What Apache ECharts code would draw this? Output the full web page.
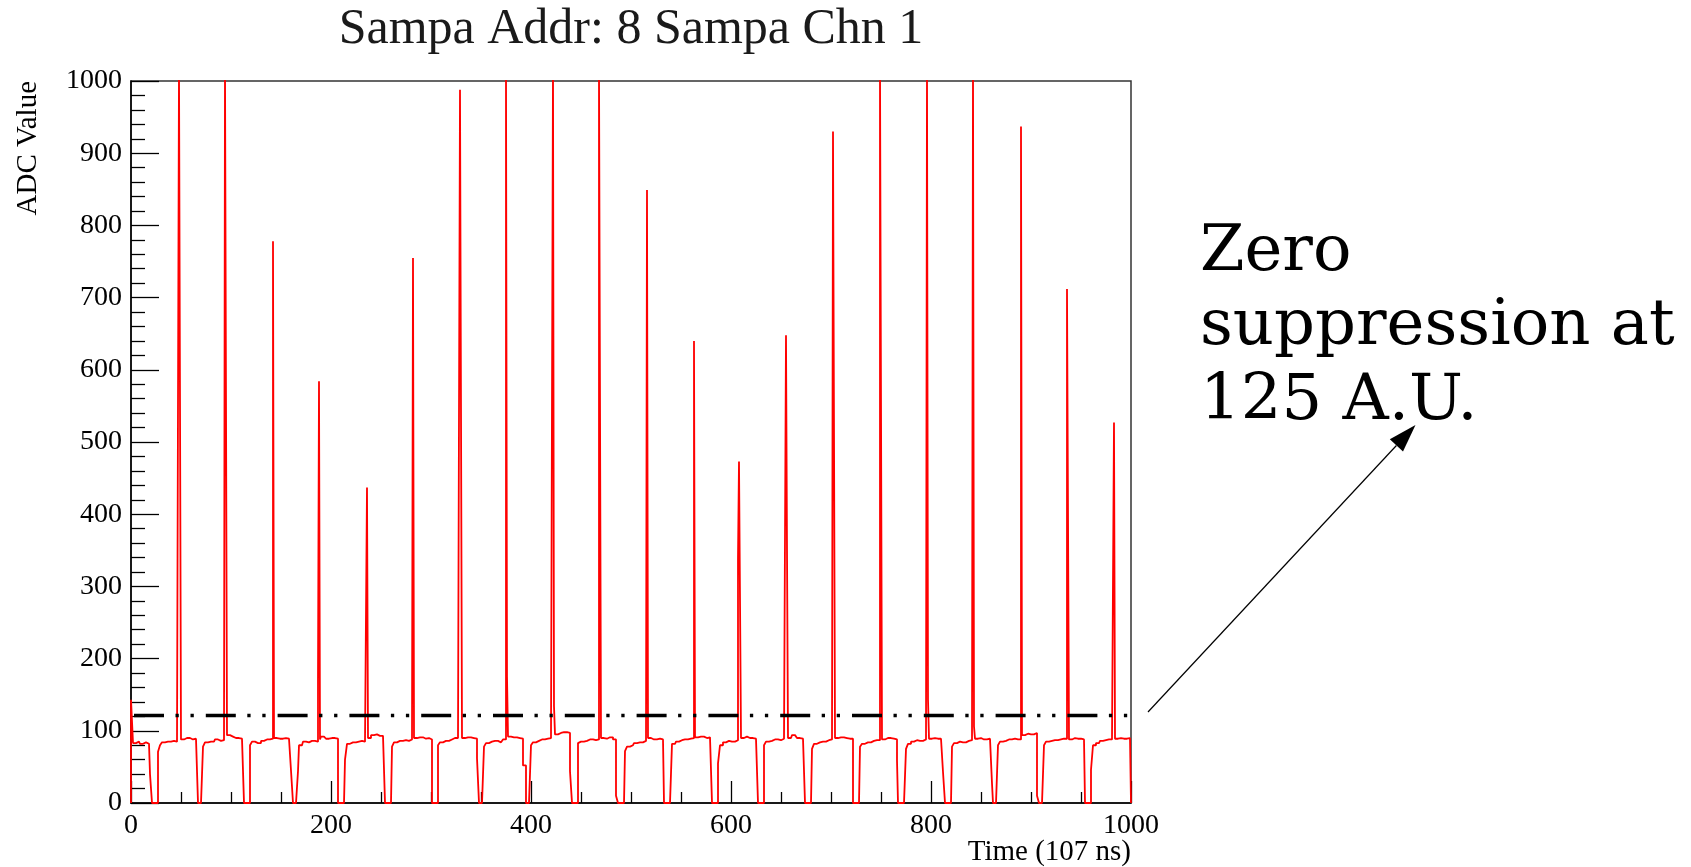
<!DOCTYPE html>
<html><head><meta charset="utf-8">
<script src="https://cdn.jsdelivr.net/npm/echarts@6/dist/echarts.min.js"></script>
<style>html,body{margin:0;padding:0;background:#fff}#c{width:1691px;height:867px}</style>
</head><body><div id="c"></div>
<script>
// ---- values ----
const titleText = 'Sampa Addr: 8 Sampa Chn 1';
const xName = 'Time (107 ns)';
const yName = 'ADC Value';
const noteText = 'Zero\nsuppression at\n125 A.U.';
const threshold = 122;

// start / end (drop to 0) of each "on" stretch of the pedestal
const segStart = [0, 27, 72, 119, 167, 214, 261, 307, 353, 400, 447, 494, 540, 587, 633, 681, 729, 775, 821, 867, 913, 960];
const segEnd   = [21, 67, 113, 162, 207, 254, 301, 348, 395, 441, 487, 533, 581, 627, 674, 722, 767, 814, 862, 908, 954, 1000];

// pedestal levels inside each stretch: [time, ADC]
const baseline = [
  [[0,143],[2,83],[5,85],[9,82],[13,84],[16,82],[19,40]],
  [[27,71],[29,80],[31,84],[35,85],[40,86],[44,85],[50,88],[55,90],[60,88],[64,89]],
  [[72,78],[74,84],[78,85],[84,88],[88,86],[92,87],[96,94],[100,92],[104,90],[110,89]],
  [[119,80],[121,85],[125,83],[130,86],[135,88],[139,89],[143,90],[148,89],[152,90],[157,89],[160,45]],
  [[167,44],[168,80],[172,85],[176,84],[180,86],[184,85],[189,88],[190,92],[195,89],[200,90],[204,89]],
  [[214,60],[216,82],[220,84],[225,85],[230,86],[233,85],[237,90],[240,94],[244,95],[248,93],[252,92]],
  [[261,78],[263,84],[267,86],[272,87],[276,86],[280,88],[283,90],[287,91],[292,89],[296,90],[300,88]],
  [[307,80],[309,84],[313,86],[318,88],[323,90],[327,89],[331,90],[335,91],[340,90],[344,89],[346,62]],
  [[353,78],[355,83],[358,85],[363,86],[368,84],[372,88],[377,92],[381,91],[386,90],[390,89],[392,52]],
  [[400,80],[402,84],[406,86],[410,88],[415,89],[419,90],[424,95],[428,97],[432,98],[436,97],[439,44]],
  [[447,83],[449,85],[453,86],[458,88],[462,87],[466,88],[470,90],[474,89],[478,91],[482,88],[485,10]],
  [[494,72],[496,78],[499,80],[503,83],[508,84],[512,86],[515,85],[517,90],[521,88],[526,89],[531,88]],
  [[540,41],[541,82],[545,85],[549,87],[553,88],[558,89],[561,90],[564,91],[568,92],[573,90],[578,91]],
  [[587,55],[589,80],[592,84],[596,86],[600,85],[604,87],[610,90],[614,92],[618,90],[623,89]],
  [[633,80],[635,85],[639,86],[643,88],[648,87],[652,89],[657,90],[661,94],[666,90],[670,89]],
  [[681,75],[683,82],[687,84],[691,85],[695,87],[699,88],[704,90],[709,91],[714,90],[718,89]],
  [[729,78],[731,82],[735,84],[740,86],[744,87],[751,88],[755,90],[760,89],[764,88],[766,59]],
  [[775,75],[777,82],[780,85],[784,87],[788,86],[792,88],[798,89],[802,90],[806,89],[810,88],[812,43]],
  [[821,78],[823,83],[827,85],[831,84],[835,86],[839,87],[844,89],[848,90],[852,88],[857,89],[861,27]],
  [[867,80],[869,85],[873,86],[877,88],[881,89],[885,88],[891,94],[895,96],[899,95],[903,97],[906,10]],
  [[913,80],[915,85],[919,86],[923,87],[927,88],[931,89],[938,88],[942,90],[946,89],[950,88]],
  [[960,46],[962,80],[965,83],[969,86],[973,87],[977,88],[980,88],[984,89],[988,90],[992,89],[996,90]]
];

// pulses
const spikeTime = [48, 94, 142, 188, 236, 282, 329, 375, 422, 468, 516, 563, 608, 655, 702, 749, 796, 842, 890, 936, 983];
const spikePeak = [1020, 1020, 778, 584, 437, 755, 988, 1020, 1020, 1020, 849, 640, 473, 648, 930, 1020, 1020, 1020, 937, 712, 527];
const spikeBins = [2, 2, 1, 1, 1, 1, 2, 1, 1, 2, 1, 1, 2, 1, 2, 2, 1, 1, 1, 2, 1];
// single samples next to the pulses
const bumpTime  = [187, 376, 423, 607, 656, 797, 843];
const bumpValue = [175, 175, 134, 339, 349, 143, 106];

// ---- build the sampled trace (one value per time bin) ----
const adc = new Array(1000).fill(0);
segStart.forEach((s, i) => {
  const pts = baseline[i];
  let k = 0;
  for (let t = s; t < segEnd[i]; t++) {
    while (k + 1 < pts.length && pts[k + 1][0] <= t) k++;
    adc[t] = pts[k][1];
  }
});
spikeTime.forEach((t, i) => { for (let b = 0; b < spikeBins[i]; b++) adc[t + b] = spikePeak[i]; });
bumpTime.forEach((t, i) => { adc[t] = bumpValue[i]; });
const traceData = [[0, 0]].concat(adc.map((v, t) => [t, v]), [[1000, 0]]);

// ---- chart ----
const serif = '"Liberation Serif", "Times New Roman", serif';
const chart = echarts.init(document.getElementById('c'), null, {renderer: 'canvas'});

// arrow geometry (annotation layout)
const tail = [1148, 712], tip = [1415.5, 425];
const dx = tip[0] - tail[0], dy = tip[1] - tail[1], len = Math.hypot(dx, dy);
const ux = dx / len, uy = dy / len, nx = -uy, ny = ux;
const headLen = 28, headHalf = 9;
const bx = tip[0] - headLen * ux, by = tip[1] - headLen * uy;

chart.setOption({
  animation: false,
  backgroundColor: '#fff',
  title: {
    text: titleText, left: 631, top: 5, padding: 0, textAlign: 'center',
    textStyle: {fontFamily: serif, fontWeight: 'normal', fontSize: 50, color: '#1a1a1a'}
  },
  grid: {left: 131, top: 81, width: 1000, height: 722, show: true, borderColor: '#333', borderWidth: 1.5, backgroundColor: 'transparent'},
  xAxis: {
    type: 'value', min: 0, max: 1000, interval: 200,
    name: xName, nameLocation: 'end', nameGap: 0, nameMoveOverlap: false,
    nameTextStyle: {fontFamily: serif, fontSize: 29, color: '#000', align: 'right', verticalAlign: 'top', padding: [35, 0, 0, 0]},
    axisLine: {show: true, onZero: false, lineStyle: {color: '#000', width: 1.5}},
    axisTick: {show: true, inside: true, length: 22, lineStyle: {color: '#000', width: 1.3}},
    minorTick: {show: true, splitNumber: 4, length: 11, lineStyle: {color: '#000', width: 1.3}},
    splitLine: {show: false}, minorSplitLine: {show: false},
    axisLabel: {fontFamily: serif, fontSize: 28, color: '#000', margin: 9, formatter: v => String(v)}
  },
  yAxis: {
    type: 'value', min: 0, max: 1000, interval: 100,
    axisLine: {show: true, onZero: false, lineStyle: {color: '#000', width: 1.5}},
    axisTick: {show: true, inside: true, length: 28, lineStyle: {color: '#000', width: 1.3}},
    minorTick: {show: true, splitNumber: 5, length: 14, lineStyle: {color: '#000', width: 1.3}},
    splitLine: {show: false}, minorSplitLine: {show: false},
    axisLabel: {fontFamily: serif, fontSize: 28, color: '#000', margin: 9, formatter: v => String(v)}
  },
  series: [{
    type: 'line', data: traceData, step: 'end', symbol: 'none', showSymbol: false,
    silent: true, clip: true,
    lineStyle: {color: '#ff0000', width: 1.8},
    markLine: {
      silent: true, symbol: 'none', label: {show: false}, animation: false,
      lineStyle: {color: '#000', width: 3.3, type: [30, 11.5, 3.3, 11.7, 3.3, 12], dashOffset: 68.8},
      data: [{yAxis: threshold}]
    }
  }],
  graphic: [
    {type: 'text', x: 28, y: 81, rotation: Math.PI / 2,
     style: {text: yName, font: '29px ' + serif, fill: '#000', align: 'right', verticalAlign: 'middle', textAlign: 'right', textVerticalAlign: 'middle'}},
    {type: 'text', x: 1200, y: 216,
     style: {text: noteText, font: '64px "DejaVu Serif", serif', lineHeight: 74.5, fill: '#000', align: 'left', verticalAlign: 'top', textAlign: 'left', textVerticalAlign: 'top'}},
    {type: 'line', shape: {x1: tail[0], y1: tail[1], x2: bx, y2: by}, style: {stroke: '#000', lineWidth: 1.2}},
    {type: 'polygon', shape: {points: [[tip[0], tip[1]], [bx + headHalf * nx, by + headHalf * ny], [bx - headHalf * nx, by - headHalf * ny]]}, style: {fill: '#000'}}
  ]
});
</script>
</body></html>
